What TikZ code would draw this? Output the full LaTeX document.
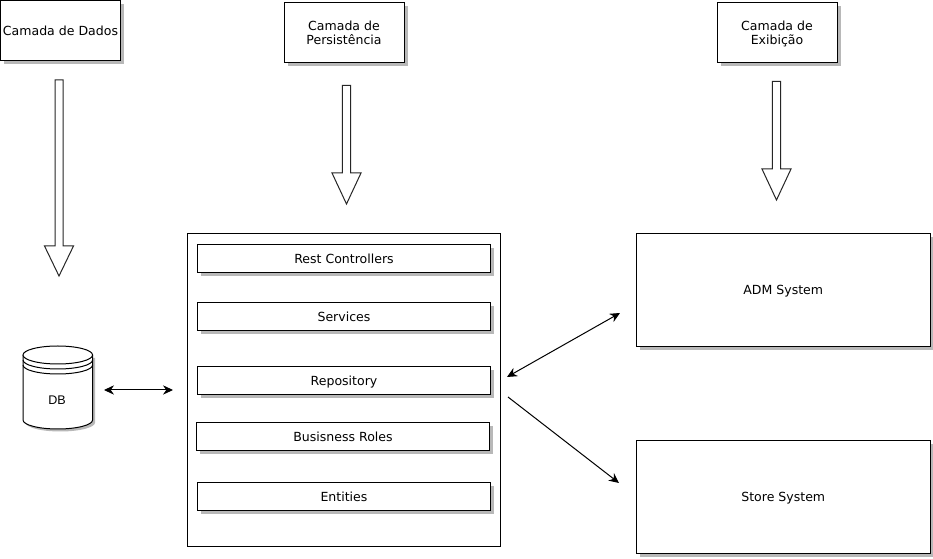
\documentclass[tikz,border=0pt]{standalone}
\usepackage{fontspec}
\setmainfont{DejaVu Sans}
\newfontfamily\dbfont{Liberation Sans}
\usetikzlibrary{shadows,arrows.meta}
\tikzset{
  x=0.75pt,y=-0.75pt,
  boxshadow/.style={general shadow={shadow xshift=2.8pt,shadow yshift=-2.8pt,fill=black!28,draw=none}},
  plainbox/.style={draw=black,line width=0.75pt,fill=white,anchor=north west,inner sep=0pt,outer sep=0pt,align=center,text depth=0pt,font=\fontsize{9.4}{10.5}\selectfont},
  shadowbox/.style={plainbox,boxshadow},
  blockarrow/.style={draw=black!85,line width=0.75pt,fill=white,line join=miter},
  link/.style={draw=black,line width=0.75pt,{Stealth[length=7.5pt,width=7pt]}-{Stealth[length=7.5pt,width=7pt]}},
  linkone/.style={draw=black,line width=0.75pt,-{Stealth[length=7.5pt,width=7pt]}}
}
\newcommand{\bx}[6][shadowbox]{\node[#1,minimum width=#4*0.75pt,minimum height=#5*0.75pt] (#2) at (#3) {#6};}
\newcommand{\blockdown}[5]{\draw[blockarrow] (#1-#2,#3) -- (#1+#2,#3) -- (#1+#2,#4) -- (#1+14.5,#4) -- (#1,#5) -- (#1-14.5,#4) -- (#1-#2,#4) -- cycle;}
\begin{document}
\begin{tikzpicture}
\useasboundingbox (0,0) rectangle (933,559);
\fill[white] (0,0) rectangle (933,559);
% header boxes
\bx{dados}{0.5,0.5}{120}{60}{Camada de Dados}
\bx{persist}{284,2.5}{120}{60}{Camada de\\Persistência}
\bx{exib}{717,2.5}{120}{60}{Camada de\\Exibição}
% block arrows
\blockdown{59}{4}{80}{246}{276}
\blockdown{346.5}{4.2}{85.5}{173}{204}
\blockdown{776.5}{4.2}{81.5}{169}{200}
% main container
\bx[plainbox]{main}{187.5,233.5}{313}{313}{}
\bx{rest}{197.5,244.5}{293}{28}{Rest Controllers}
\bx{serv}{197.5,302.5}{293}{28}{Services}
\bx{repo}{197.5,366.5}{293}{28}{Repository}
\bx{roles}{196.5,422.5}{293}{28}{Busisness Roles}
\bx{ent}{197.5,482.5}{293}{28}{Entities}
% systems
\bx{adm}{636.5,233.5}{293.5}{113}{ADM System}
\bx{store}{636.5,440.5}{293.5}{113}{Store System}
% database
\fill[black!28] (25.5,358) -- (25.5,422.5) arc[x radius=34.8,y radius=9,start angle=180,end angle=0] -- (95,358) -- cycle;
\draw[black,line width=0.75pt,fill=white,line join=round] (23,355) -- (23,420) arc[x radius=34.8,y radius=9,start angle=180,end angle=0] -- (92.6,355);
\draw[black,line width=0.75pt,fill=white] (57.8,355) ellipse[x radius=34.8,y radius=9];
\draw[black,line width=0.75pt] (23,360) arc[x radius=34.8,y radius=9,start angle=180,end angle=0];
\draw[black,line width=0.75pt] (23,365) arc[x radius=34.8,y radius=9,start angle=180,end angle=0];
\node[font=\dbfont\fontsize{9.4}{10.5}\selectfont,inner sep=0pt] (db) at (57,400.5) {DB};
% connector ends
\coordinate (dbR) at (104,390);
\coordinate (mainL) at (173,390);
\coordinate (repoA) at (507,377);
\coordinate (admL) at (620,313);
\coordinate (repoB) at (508,397);
\coordinate (storeL) at (619,483);
\draw[link] (dbR) -- (mainL);
\draw[link] (repoA) -- (admL);
\draw[linkone] (repoB) -- (storeL);
\end{tikzpicture}
\end{document}
